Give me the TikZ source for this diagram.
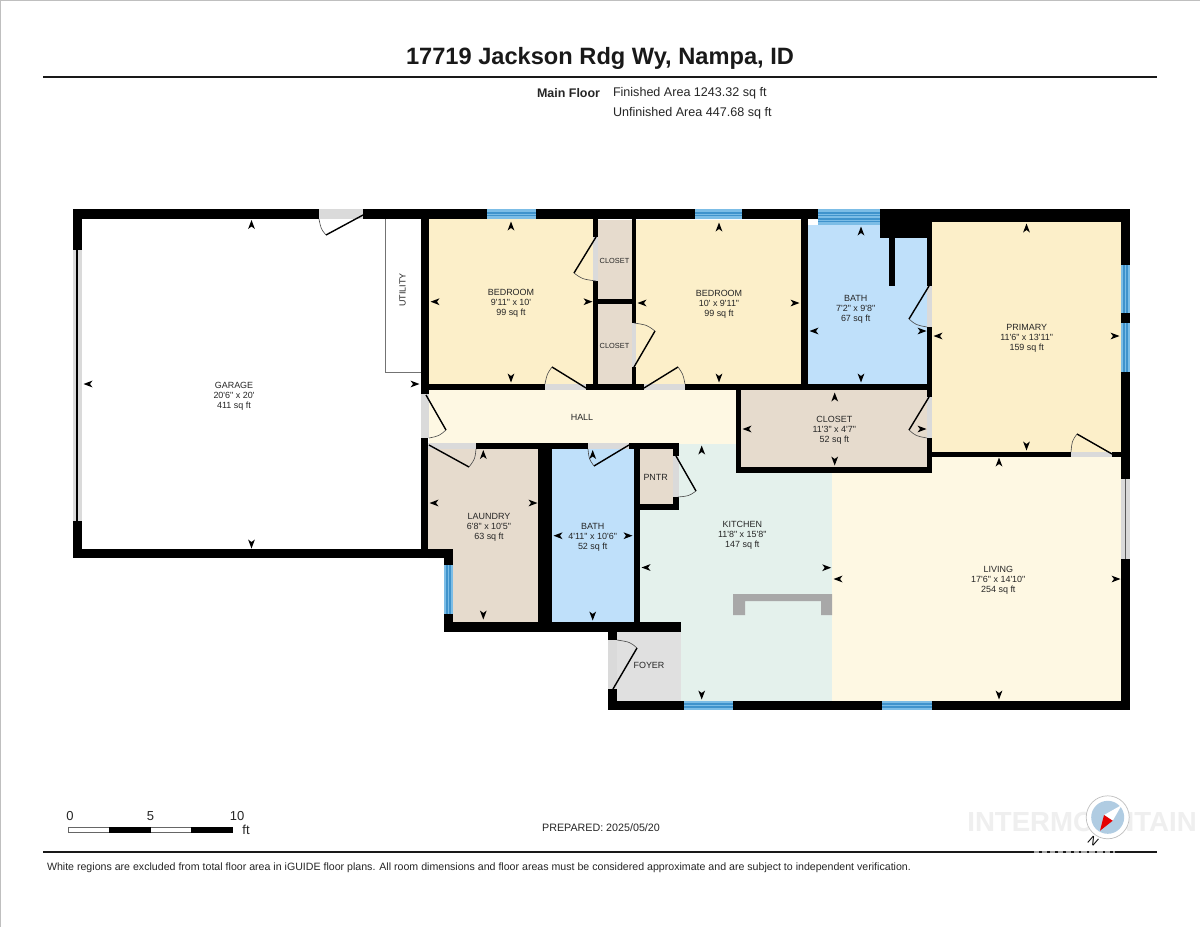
\documentclass[tikz,border=0pt]{standalone}
\usepackage{fontspec}
\newfontfamily\planfont{Liberation Sans}
\definecolor{bedroomc}{HTML}{FCEFC9}
\definecolor{closetc}{HTML}{E6DBCD}
\definecolor{bathc}{HTML}{BFE0FA}
\definecolor{hallc}{HTML}{FEF8E3}
\definecolor{kitchenc}{HTML}{E4F1EC}
\definecolor{foyerc}{HTML}{E0E0E0}
\definecolor{gapc}{HTML}{DADADA}
\definecolor{windowc}{HTML}{7CBDE6}
\definecolor{windowd}{HTML}{3F93CC}
\definecolor{counterc}{HTML}{A8A8A8}
\definecolor{markc}{HTML}{EFEFEF}

\begin{document}
\begin{tikzpicture}[x=0.02cm,y=-0.02cm,
  dimtick/.pic={\fill[black] (4.5,0) -- (-4.5,3.4) -- (-2,0) -- (-4.5,-3.4) -- cycle;}]
\tikzstyle{every node}=[inner sep=0pt,outer sep=0pt,text=black!85]
\tikzstyle{roomtext}=[font=\planfont\fontsize{5.1}{5.67}\selectfont,align=center,yshift=-0.5pt]
\tikzstyle{smalltext}=[font=\planfont\fontsize{4.2}{5}\selectfont,yshift=-0.4pt]
\tikzstyle{infotext}=[font=\planfont\fontsize{7.15}{8}\selectfont,anchor=west,yshift=-0.8pt]
\tikzstyle{scaletext}=[font=\planfont\fontsize{7.4}{9}\selectfont]
\tikzstyle{wall}=[fill=black]
\tikzstyle{gap}=[fill=gapc]
\tikzstyle{leaf}=[draw=black,line width=0.8pt]
\tikzstyle{swing}=[draw=black!70,line width=0.35pt]
\tikzstyle{pane}=[fill=windowc]
\tikzstyle{panemid}=[draw=windowd,double=windowc,double distance=0.35pt,line width=1pt]

\useasboundingbox (0,0) rectangle (1200,927);
\fill[white] (0,0) rectangle (1200,927);
\fill[black!25] (0,0) rectangle (1200,1);
\fill[black!25] (0,0) rectangle (1,927);

% heading
\node[font=\planfont\bfseries\fontsize{13.45}{16}\selectfont,text=black!90] (title) at (600,58) {17719 Jackson Rdg Wy, Nampa, ID};
\fill[black!90] (43,76) rectangle (1157,78);
\node[font=\planfont\bfseries\fontsize{7.1}{8}\selectfont,anchor=west,yshift=-0.6pt] (floor) at (537,92) {Main Floor};
\node[infotext] (finished) at (613,92) {Finished Area 1243.32 sq ft};
\node[infotext] (unfinished) at (613,112) {Unfinished Area 447.68 sq ft};

% room fills
\fill[kitchenc] (639,444) rectangle (832,701);
\fill[hallc] (832,456) rectangle (1121,701);
\fill[bedroomc] (429,219) rectangle (593,385);
\fill[bedroomc] (636,220) rectangle (801,385);
\fill[closetc] (597,220) rectangle (632,300);
\fill[closetc] (597,304) rectangle (632,385);
\fill[bathc] (808,225) rectangle (928,385);
\fill[bedroomc] (932,222) rectangle (1121,452);
\fill[hallc] (429,390) rectangle (736,444);
\fill[closetc] (741,390) rectangle (928,467);
\fill[closetc] (428,449) -- (538,449) -- (538,622) -- (453,622) -- (453,558) -- (428,558) -- cycle;
\fill[bathc] (552,449) rectangle (634,622);
\fill[closetc] (639,449) rectangle (673,504);
\fill[foyerc] (617,631) rectangle (681,701);

% door and slider openings
\fill[gap] (319,209) rectangle (363,219);
\fill[gap] (73,250) rectangle (82,521);
\fill[gap] (421,394) rectangle (429,438);
\fill[gap] (593,237) rectangle (598,281);
\fill[gap] (632,323) rectangle (636,367);
\fill[gap] (545,384) rectangle (586,390);
\fill[gap] (644,384) rectangle (685,390);
\fill[gap] (428,443) rectangle (476,449);
\fill[gap] (588,443) rectangle (629,449);
\fill[gap] (673,456) rectangle (679,497);
\fill[gap] (927,286) rectangle (932,327);
\fill[gap] (927,397) rectangle (932,438);
\fill[gap] (1071,452) rectangle (1112,457);
\fill[gap] (1121,479) rectangle (1130,559);
\fill[gap] (608,640) rectangle (617,689);

% walls
\fill[wall] (73,209) rectangle (319,219);
\fill[wall] (363,209) rectangle (1130,219);
\fill[wall] (73,209) rectangle (82,250);
\fill[wall] (73,521) rectangle (82,558);
\fill[wall] (73,549) rectangle (453,558);
\fill[wall] (421,209) rectangle (429,394);
\fill[wall] (421,438) rectangle (428,549);
\fill[wall] (593,219) rectangle (598,237);
\fill[wall] (593,281) rectangle (598,385);
\fill[wall] (593,299) rectangle (636,304);
\fill[wall] (632,219) rectangle (636,323);
\fill[wall] (632,367) rectangle (636,385);
\fill[wall] (421,384) rectangle (545,390);
\fill[wall] (586,384) rectangle (644,390);
\fill[wall] (685,384) rectangle (932,390);
\fill[wall] (801,219) rectangle (808,390);
\fill[wall] (880,209) rectangle (932,238);
\fill[wall] (889,225) rectangle (895,286);
\fill[wall] (927,209) rectangle (932,286);
\fill[wall] (927,327) rectangle (932,397);
\fill[wall] (927,438) rectangle (932,473);
\fill[wall] (932,209) rectangle (1130,222);
\fill[wall] (1121,209) rectangle (1130,265);
\fill[wall] (1121,313) rectangle (1130,323);
\fill[wall] (1121,372) rectangle (1130,479);
\fill[wall] (1121,559) rectangle (1130,710);
\fill[wall] (932,452) rectangle (1071,457);
\fill[wall] (1112,452) rectangle (1121,457);
\fill[wall] (736,390) rectangle (741,473);
\fill[wall] (736,467) rectangle (932,473);
\fill[wall] (476,443) rectangle (588,449);
\fill[wall] (629,443) rectangle (679,449);
\fill[wall] (673,443) rectangle (679,456);
\fill[wall] (673,497) rectangle (679,510);
\fill[wall] (640,504) rectangle (679,510);
\fill[wall] (538,443) rectangle (552,622);
\fill[wall] (634,443) rectangle (640,622);
\fill[wall] (444,549) rectangle (453,565);
\fill[wall] (444,614) rectangle (453,632);
\fill[wall] (444,622) rectangle (681,632);
\fill[wall] (608,622) rectangle (617,640);
\fill[wall] (608,689) rectangle (617,710);
\fill[wall] (608,701) rectangle (1130,710);

% windows
\fill[pane] (487,209) rectangle (536,219);
\draw[panemid] (487,214) -- (536,214);
\fill[pane] (695,209) rectangle (742,219);
\draw[panemid] (695,214) -- (742,214);
\fill[pane] (818,209) rectangle (880,225);
\draw[panemid] (818,214) -- (880,214);
\draw[panemid] (818,220) -- (880,220);
\fill[pane] (1121,265) rectangle (1130,313);
\draw[panemid] (1125.5,265) -- (1125.5,313);
\fill[pane] (1121,323) rectangle (1130,372);
\draw[panemid] (1125.5,323) -- (1125.5,372);
\fill[pane] (444,565) rectangle (453,614);
\draw[panemid] (448.5,565) -- (448.5,614);
\fill[pane] (684,701) rectangle (733,710);
\draw[panemid] (684,705.5) -- (733,705.5);
\fill[pane] (882,701) rectangle (932,710);
\draw[panemid] (882,705.5) -- (932,705.5);

% sliders
\draw[black,line width=0.8pt] (77,250) -- (77,521);
\draw[black!65,line width=0.5pt] (1125,479) -- (1125,559);

% utility closet and counter
\draw[black!55,line width=0.5pt] (385.7,219) -- (385.7,372) -- (421,372);
\fill[counterc] (733,594) -- (832,594) -- (832,615) -- (821,615) -- (821,601) -- (745,601) -- (745,615) -- (733,615) -- cycle;

% door leaves
\draw[leaf] (363,215) -- (326,235);
\draw[swing] (326,235) .. controls (321,229) .. (319,219);
\draw[leaf] (426,395) -- (446,430);
\draw[swing] (446,430) .. controls (439,436) .. (429,438);
\draw[leaf] (596,237) -- (574,273);
\draw[swing] (574,273) .. controls (582,279) .. (596,281);
\draw[leaf] (634,367) -- (655,331);
\draw[swing] (655,331) .. controls (647,325) .. (634,323);
\draw[leaf] (586,388) -- (552,367);
\draw[swing] (552,367) .. controls (547,374) .. (545,384);
\draw[leaf] (644,388) -- (678,367);
\draw[swing] (678,367) .. controls (683,374) .. (685,384);
\draw[leaf] (429,445) -- (469,467);
\draw[swing] (469,467) .. controls (475,459) .. (476,449);
\draw[leaf] (629,445) -- (594,466);
\draw[swing] (594,466) .. controls (589,459) .. (588,449);
\draw[leaf] (676,456) -- (696,491);
\draw[swing] (696,491) .. controls (689,496) .. (678,497);
\draw[leaf] (929,286) -- (909,319);
\draw[swing] (909,319) .. controls (916,325) .. (927,327);
\draw[leaf] (929,397) -- (909,430);
\draw[swing] (909,430) .. controls (916,436) .. (927,438);
\draw[leaf] (1112,454) -- (1077,434);
\draw[swing] (1077,434) .. controls (1072,441) .. (1071,452);
\draw[leaf] (613,689) -- (637,648);
\draw[swing] (637,648) .. controls (630,642) .. (617,640);

% room labels
\node[roomtext] (garage) at (234,395) {GARAGE\\20'6" x 20'\\411 sq ft};
\node[roomtext,rotate=90] (utility) at (402.7,289) {UTILITY};
\node[roomtext] (bedroom1) at (511,302) {BEDROOM\\9'11" x 10'\\99 sq ft};
\node[roomtext] (bedroom2) at (719,303) {BEDROOM\\10' x 9'11"\\99 sq ft};
\node[smalltext] (closet1) at (614.5,260) {CLOSET};
\node[smalltext] (closet2) at (614.5,345) {CLOSET};
\node[roomtext] (bath1) at (855.7,308) {BATH\\7'2" x 9'8"\\67 sq ft};
\node[roomtext] (primary) at (1026.7,337) {PRIMARY\\11'6" x 13'11"\\159 sq ft};
\node[roomtext] (hall) at (582,417) {HALL};
\node[roomtext] (closet3) at (834.3,429) {CLOSET\\11'3" x 4'7"\\52 sq ft};
\node[roomtext] (laundry) at (489,526) {LAUNDRY\\6'8" x 10'5"\\63 sq ft};
\node[roomtext] (bath2) at (592.7,536) {BATH\\4'11" x 10'6"\\52 sq ft};
\node[roomtext] (pntr) at (655.7,476.5) {PNTR};
\node[roomtext] (kitchen) at (742.3,534) {KITCHEN\\11'8" x 15'8"\\147 sq ft};
\node[roomtext] (living) at (998.3,579) {LIVING\\17'6" x 14'10"\\254 sq ft};
\node[roomtext] (foyer) at (649,664.5) {FOYER};

% dimension ticks
\pic[rotate=90] at (251.5,224.5) {dimtick};
\pic[rotate=270] at (251.5,544) {dimtick};
\pic[rotate=180] at (88,384) {dimtick};
\pic at (415,384) {dimtick};
\pic[rotate=90] at (511,226) {dimtick};
\pic[rotate=270] at (511,378) {dimtick};
\pic[rotate=180] at (435,301.7) {dimtick};
\pic at (588,301.7) {dimtick};
\pic[rotate=90] at (719,227) {dimtick};
\pic[rotate=270] at (719,378) {dimtick};
\pic[rotate=180] at (642,303) {dimtick};
\pic at (795,303) {dimtick};
\pic[rotate=90] at (861,231) {dimtick};
\pic[rotate=270] at (861,378) {dimtick};
\pic[rotate=180] at (814,331) {dimtick};
\pic at (922,331) {dimtick};
\pic[rotate=90] at (1026.5,228) {dimtick};
\pic[rotate=270] at (1026.5,446) {dimtick};
\pic[rotate=180] at (938,336) {dimtick};
\pic at (1115,336) {dimtick};
\pic[rotate=90] at (834.7,397) {dimtick};
\pic[rotate=270] at (834.7,461) {dimtick};
\pic[rotate=180] at (747,429) {dimtick};
\pic at (922,429) {dimtick};
\pic[rotate=90] at (483.3,454.5) {dimtick};
\pic[rotate=270] at (483.3,615) {dimtick};
\pic[rotate=180] at (434,503) {dimtick};
\pic at (533,503) {dimtick};
\pic[rotate=90] at (592.7,454.5) {dimtick};
\pic[rotate=270] at (592.7,616) {dimtick};
\pic[rotate=180] at (558,535.7) {dimtick};
\pic at (628,535.7) {dimtick};
\pic[rotate=90] at (701.7,450) {dimtick};
\pic[rotate=270] at (701.7,695) {dimtick};
\pic[rotate=180] at (646,567.5) {dimtick};
\pic at (826.7,567.7) {dimtick};
\pic[rotate=90] at (999,462) {dimtick};
\pic[rotate=270] at (999,695) {dimtick};
\pic[rotate=180] at (838,579) {dimtick};
\pic at (1116,579) {dimtick};

% scale bar
\fill[black!60] (68,826.5) rectangle (233,833);
\fill[white] (69,827.5) rectangle (108.5,832);
\fill[black] (108.5,827) rectangle (150.5,833);
\fill[white] (150.5,827.5) rectangle (190.7,832);
\fill[black] (190.7,827) rectangle (233,833);
\node[scaletext] (scale0) at (70,816.5) {0};
\node[scaletext] (scale5) at (150.5,816.5) {5};
\node[scaletext] (scale10) at (237,816.5) {10};
\node[scaletext] (scaleft) at (246,830) {ft};
\node[font=\planfont\fontsize{6.1}{8}\selectfont,yshift=-0.4pt] (prepared) at (601,827) {PREPARED: 2025/05/20};

% foot line and note
\fill[black!90] (43,851) rectangle (1157,853);
\draw[black!35,line width=1.1pt,dash pattern=on 3pt off 1.5pt] (1034,852) -- (1115,852);
\node[font=\planfont\fontsize{6.04}{8}\selectfont,anchor=west,yshift=-0.7pt] (note) at (47,867) {White regions are excluded from total floor area in iGUIDE floor plans. All room dimensions and floor areas must be considered approximate and are subject to independent verification.};

% watermark and compass
\node[font=\planfont\bfseries\fontsize{15.7}{18}\selectfont,text=markc] (mark) at (1082,822) {INTERMOUNTAIN};
\draw[black!25,fill=white,line width=0.4pt] (1107.7,817.3) circle (21.5);
\fill[bathc!90!black!95] (1107.7,817.3) circle (16.5);
\fill[white] (1104,815) -- (1121.7,805) -- (1112.7,820.7) -- cycle;
\fill[red!90!black] (1104,815) -- (1112.7,820.7) -- (1100,830.7) -- cycle;
\node[font=\planfont\itshape\fontsize{7}{8}\selectfont,rotate=-30,text=black] (north) at (1093,841) {N};
\end{tikzpicture}
\end{document}
